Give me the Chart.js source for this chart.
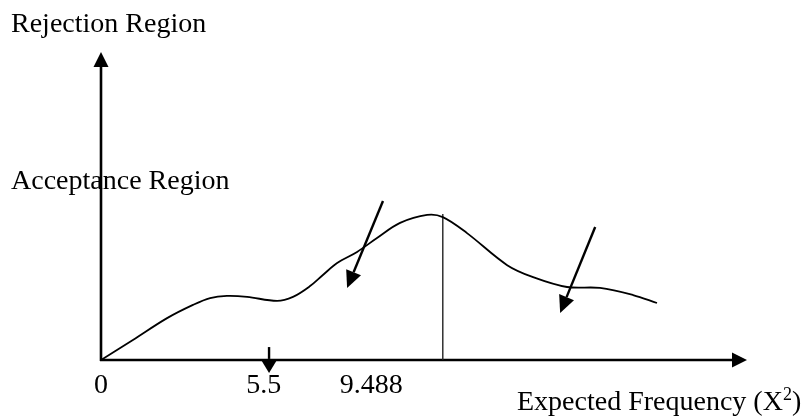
<!DOCTYPE html>
<html>
<head>
<meta charset="utf-8">
<script src="https://cdn.jsdelivr.net/npm/chart.js@4/dist/chart.umd.min.js"></script>
<style>
  html, body { margin: 0; padding: 0; background: #fff; }
  #wrap { width: 803px; height: 416px; position: relative; }
</style>
</head>
<body>
<div id="wrap"><canvas id="chart"></canvas></div>
<script>
  // curve (x in chi-square units, y in relative height 0-100)
  const curveX = [0, 1.12, 2.32, 3.23, 3.83, 4.42, 5.13, 6.18, 6.74, 7.34, 7.79, 8.29, 8.99, 9.69, 10.5, 11.45, 12.0, 12.85, 14.26, 15.17, 16.36, 17.52, 18.68, 19.52];
  const curveY = [0, 6.5, 13.6, 17.9, 20.1, 20.8, 20.5, 19.2, 20.5, 24.0, 27.6, 31.5, 35.1, 39.6, 44.5, 47.1, 46.4, 41.2, 30.8, 26.9, 23.7, 23.4, 21.1, 18.5];

  // critical line
  const cutX = 12.0;
  const cutTop = 47.4;

  // x tick labels
  const tickValues = [0, 5.5, 9.488];
  const tickLabels = ["0", "5.5", "9.488"];

  // pointer arrows: [fromX, fromY, toX, toY]
  const pointers = [
    [9.9, 51.6, 8.64, 23.4],
    [17.35, 43.2, 16.12, 15.3],
    [5.9, 4.2, 5.9, -4.2],
  ];

  const X_MAX = 22.68;
  const Y_MAX = 100;

  const yTitle = "Rejection Region";
  const midTitle = "Acceptance Region";
  const xTitle = "Expected Frequency (X";

  const FONT = '28px "Liberation Serif", "Times New Roman", serif';

  function arrow(ctx, x1, y1, x2, y2, head, width, lw) {
    const a = Math.atan2(y2 - y1, x2 - x1);
    const bx = x2 - head * Math.cos(a), by = y2 - head * Math.sin(a);
    ctx.save();
    ctx.strokeStyle = "#000";
    ctx.fillStyle = "#000";
    ctx.lineWidth = lw;
    ctx.beginPath();
    ctx.moveTo(x1, y1);
    ctx.lineTo(bx, by);
    ctx.stroke();
    ctx.beginPath();
    ctx.moveTo(x2, y2);
    ctx.lineTo(bx + (width / 2) * Math.sin(a), by - (width / 2) * Math.cos(a));
    ctx.lineTo(bx - (width / 2) * Math.sin(a), by + (width / 2) * Math.cos(a));
    ctx.closePath();
    ctx.fill();
    ctx.restore();
  }

  const sketch = {
    id: "sketch",
    beforeDatasetsDraw(chart) {
      const { ctx, scales: { x, y } } = chart;
      const x0 = x.getPixelForValue(0), y0 = y.getPixelForValue(0);
      // axes with arrowheads
      arrow(ctx, x0, y0 + 1, x0, y.getPixelForValue(Y_MAX), 15, 15, 2.6);
      arrow(ctx, x0 - 1, y0, x.getPixelForValue(X_MAX), y0, 15, 15, 2.6);
    },
    afterDatasetsDraw(chart) {
      const { ctx, scales: { x, y } } = chart;
      pointers.forEach((p, i) => {
        arrow(ctx, x.getPixelForValue(p[0]), y.getPixelForValue(p[1]),
          x.getPixelForValue(p[2]), y.getPixelForValue(p[3]),
          i === 2 ? 14 : 17, i === 2 ? 17 : 16, 2.4);
      });

      ctx.save();
      ctx.fillStyle = "#000";
      ctx.font = FONT;
      ctx.textBaseline = "middle";
      ctx.textAlign = "center";
      const ty = y.getPixelForValue(0) + 26;
      tickValues.forEach((v, i) => {
        // the hand-placed 5.5 label sits a little right of its value
        ctx.fillText(tickLabels[i], x.getPixelForValue(v) + (i === 1 ? 6 : 0), ty);
      });

      ctx.textAlign = "left";
      ctx.fillText(yTitle, 11, 25);
      ctx.fillText(midTitle, 11, 182);

      const tx = 517, txy = 403;
      ctx.fillText(xTitle, tx, txy);
      let w = ctx.measureText(xTitle).width;
      ctx.font = '18px "Liberation Serif", "Times New Roman", serif';
      ctx.fillText("2", tx + w, txy - 8);
      w += ctx.measureText("2").width;
      ctx.font = FONT;
      ctx.fillText(")", tx + w, txy);
      ctx.restore();
    },
  };

  new Chart(document.getElementById("chart"), {
    type: "scatter",
    data: {
      datasets: [
        {
          data: curveX.map((v, i) => ({ x: v, y: curveY[i] })),
          showLine: true,
          borderColor: "#000",
          borderWidth: 1.8,
          pointRadius: 0,
          tension: 0.35,
          fill: false,
        },
        {
          data: [{ x: cutX, y: 0 }, { x: cutX, y: cutTop }],
          showLine: true,
          borderColor: "#222",
          borderWidth: 1.4,
          pointRadius: 0,
        },
      ],
    },
    options: {
      responsive: true,
      maintainAspectRatio: false,
      animation: false,
      layout: { padding: { left: 101, right: 56, top: 52, bottom: 56 } },
      scales: {
        x: { type: "linear", min: 0, max: X_MAX, display: false },
        y: { type: "linear", min: 0, max: Y_MAX, display: false },
      },
      plugins: { legend: { display: false }, tooltip: { enabled: false } },
    },
    plugins: [sketch],
  });
</script>
</body>
</html>
